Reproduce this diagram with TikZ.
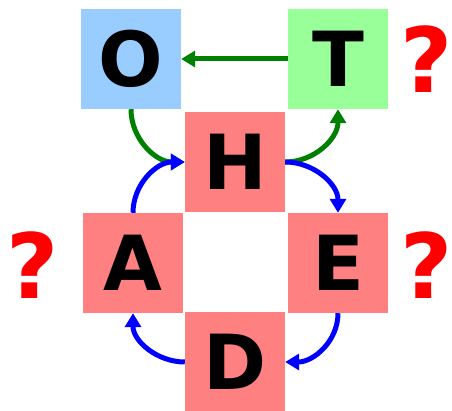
\documentclass[tikz,border=0pt]{standalone}
\usepackage{xcolor}
\usepackage{fontspec}
\usepackage{tikz}
\setmainfont{DejaVu Sans}
\usetikzlibrary{calc}
\usetikzlibrary{arrows.meta}
\definecolor{oblue}{HTML}{99CCFF}
\definecolor{tgreen}{HTML}{99FF99}
\definecolor{pinkbox}{HTML}{FF8080}
\definecolor{arrgreen}{HTML}{008000}
\tikzset{
  letterbox/.style={minimum width=100pt, minimum height=100pt, inner sep=0pt,
    font=\fontsize{76}{76}\selectfont\bfseries},
  qmark/.style={text=red, inner sep=0pt, font=\fontsize{90}{90}\selectfont\bfseries},
  flow/.style={line width=5pt, -{Triangle[length=14pt,width=16pt]}}
}
\begin{document}
\begin{tikzpicture}[x=1pt,y=-1pt]
            \useasboundingbox (0,0) rectangle (452,411);
            \node[letterbox, fill=oblue] (O) at (131,59) {O};
            \node[letterbox, fill=tgreen] (T) at (338,59) {T};
            \node[letterbox, fill=pinkbox] (H) at (235,162) {H};
            \node[letterbox, fill=pinkbox] (A) at (133,263) {A};
            \node[letterbox, fill=pinkbox] (E) at (338,263) {E};
            \node[letterbox, fill=pinkbox] (D) at (235,362) {D};
            \node[qmark] (qT) at (427,59) {?};
            \node[qmark] (qA) at (33,265) {?};
            \node[qmark] (qE) at (427,265) {?};
            % green loop
            \draw [flow, arrgreen] (T.west) -- (O.east);
            \draw [flow, arrgreen] (O.south) to[out=-90, in=180] (H.west);
            \draw [flow, arrgreen] (H.east) to[out=0, in=-90] (T.south);
            % blue loop
            \draw [flow, blue] (A.north) to[out=90, in=180] (H.west);
            \draw [flow, blue] (H.east) to[out=0, in=90] (E.north);
            \draw [flow, blue] (E.south) to[out=-90, in=0] (D.east);
            \draw [flow, blue] (D.west) to[out=180, in=-90] (A.south);
        \end{tikzpicture}
\end{document}
